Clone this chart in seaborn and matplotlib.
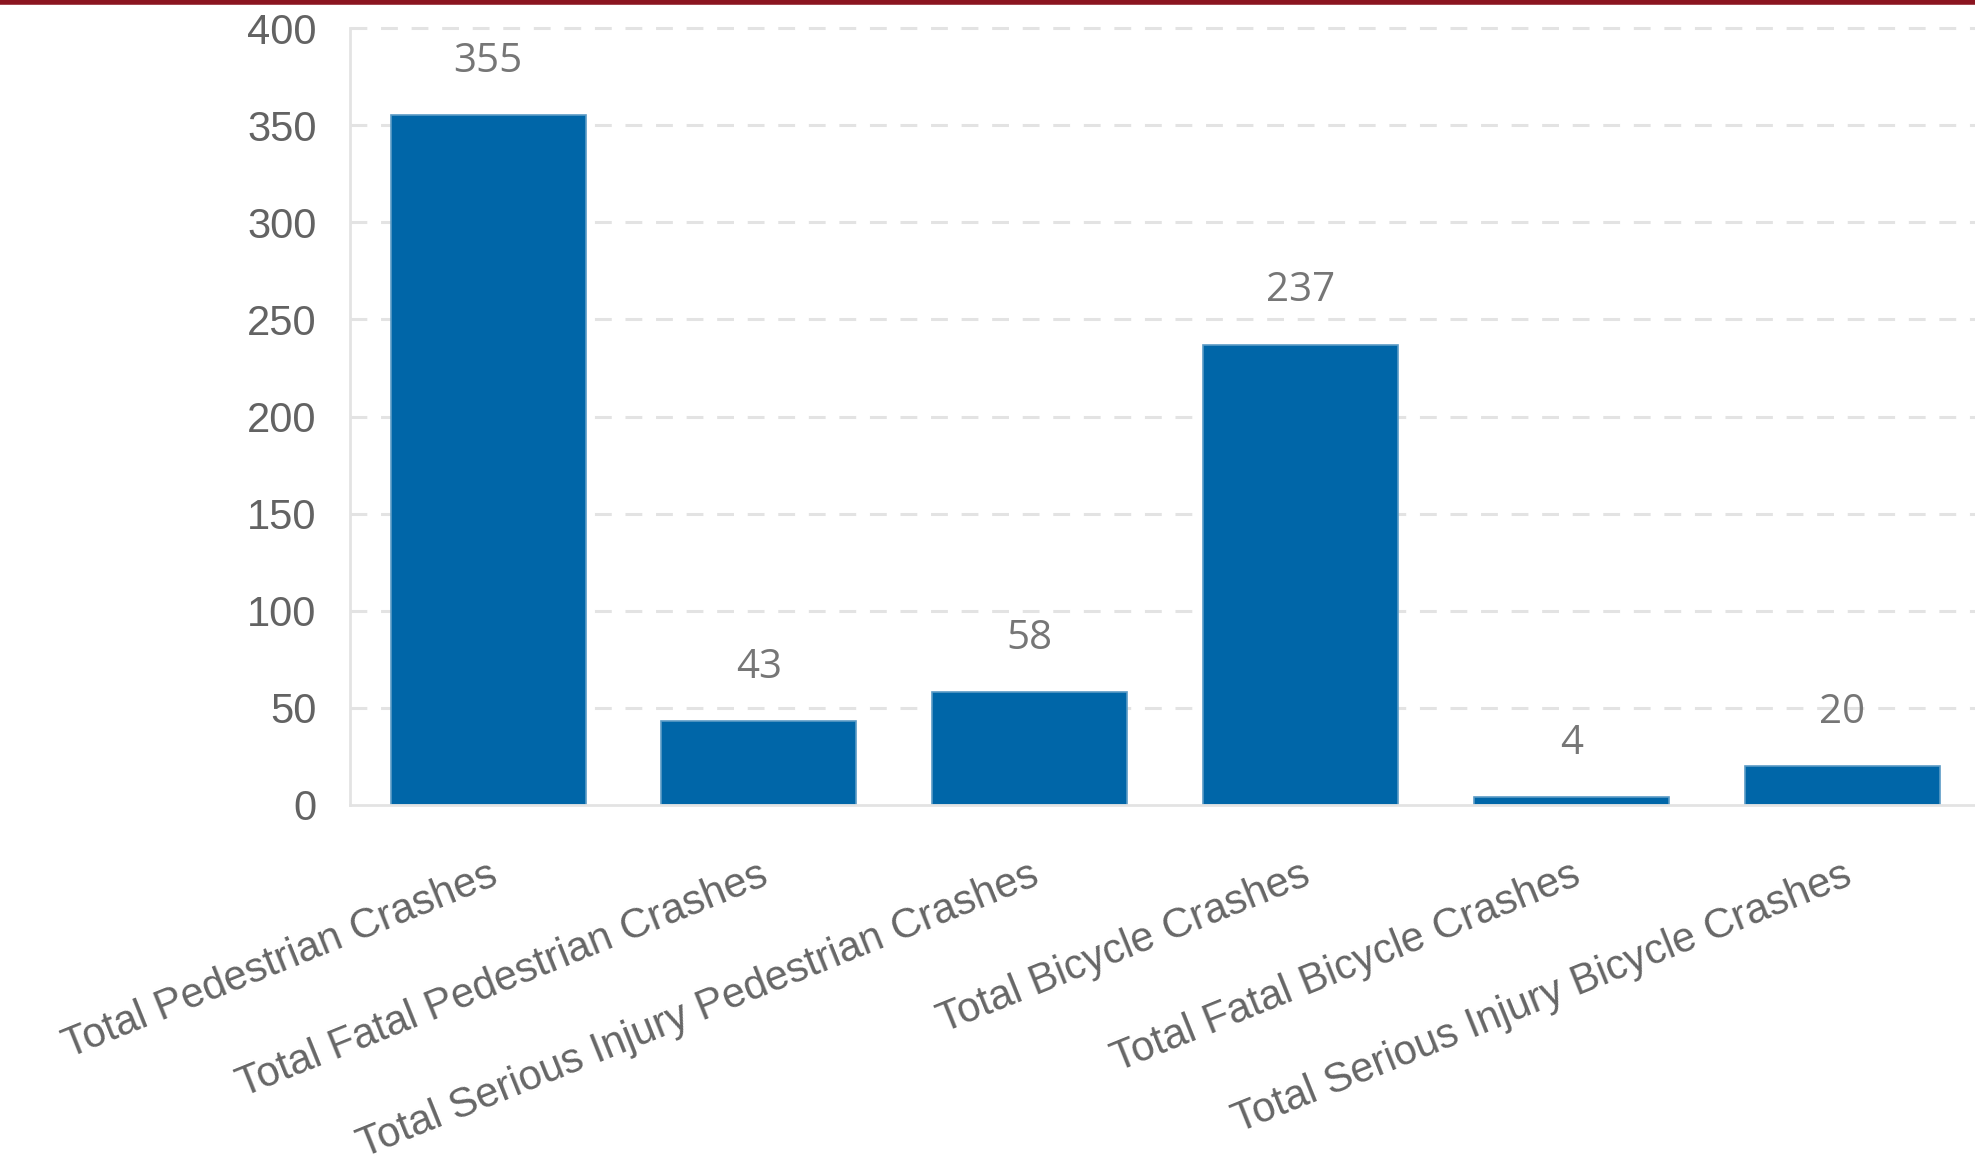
import matplotlib
matplotlib.use("Agg")
import matplotlib.pyplot as plt
import seaborn as sns
import pandas as pd
from matplotlib.lines import Line2D

categories = [
    "Total Pedestrian Crashes",
    "Total Fatal Pedestrian Crashes",
    "Total Serious Injury Pedestrian Crashes",
    "Total Bicycle Crashes",
    "Total Fatal Bicycle Crashes",
    "Total Serious Injury Bicycle Crashes",
]
values = [355, 43, 58, 237, 4, 20]
yticks = [0, 50, 100, 150, 200, 250, 300, 350, 400]

sns.set_style("white")
plt.rcParams["font.family"] = ["Liberation Sans", "DejaVu Sans"]

df = pd.DataFrame({"category": categories, "value": values})

fig = plt.figure(figsize=(19.75, 11.71), dpi=100)
ax = fig.add_axes([0.1772, 0.3126, 0.8228, 0.976 - 0.3126])

sns.barplot(data=df, x="category", y="value", color="#0066A8", width=0.72,
            saturation=1, edgecolor="#5B9BC6", linewidth=1.2, ax=ax)

ax.set_ylim(0, 400)
ax.set_xlim(-0.51, 5.49)
ax.set_yticks(yticks)
ax.set_yticklabels([str(t) for t in yticks], fontsize=30, color="#636363")
ax.set_xlabel("")
ax.set_ylabel("")

for t in yticks[1:]:
    ax.axhline(t, color="#e3e3e3", lw=2.2, ls=(0, (5.5, 4.5)), zorder=0, clip_on=False)

for s in ["top", "right"]:
    ax.spines[s].set_visible(False)
ax.spines["left"].set_color("#e3e3e3")
ax.spines["left"].set_linewidth(2)
ax.spines["bottom"].set_color("#e3e3e3")
ax.spines["bottom"].set_linewidth(2)
ax.tick_params(axis="y", length=18, width=2, color="#e3e3e3", pad=6)
ax.tick_params(axis="x", length=0, pad=36)

ax.set_xticks(range(len(categories)))
ax.set_xticklabels(categories, rotation=22, ha="right", rotation_mode="anchor",
                   fontsize=30, color="#666666")

for i, v in enumerate(values):
    ax.annotate(str(v), (i, v), xytext=(0, 24), textcoords="offset points",
                ha="center", va="bottom", fontsize=29, color="#767676",
                family=["Open Sans", "DejaVu Sans"])

fig.add_artist(Line2D([0, 1], [0.9985, 0.9985], transform=fig.transFigure,
                      color="#8B1520", lw=4))

fig.savefig("out.png", dpi=100)
